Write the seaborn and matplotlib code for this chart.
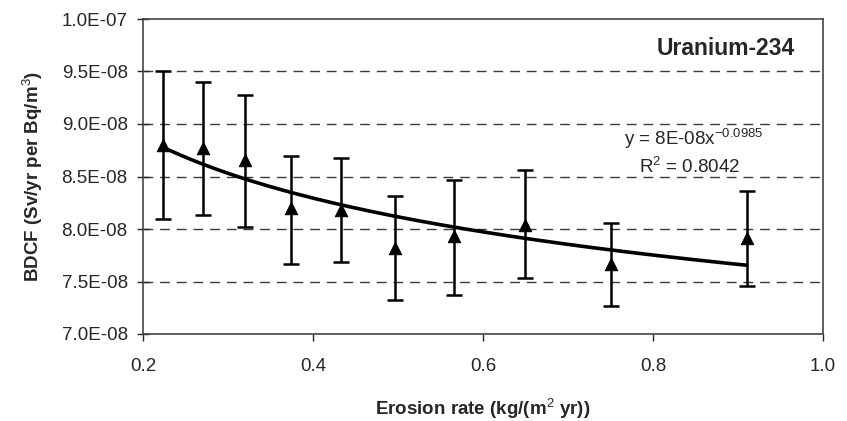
import numpy as np
import pandas as pd
import matplotlib
matplotlib.use("Agg")
import matplotlib.pyplot as plt
import seaborn as sns
from matplotlib.ticker import FuncFormatter

# Data
erosion_rate = [0.223, 0.270, 0.320, 0.374, 0.433, 0.496, 0.566, 0.649, 0.751, 0.910]
bdcf_mean = [8.80e-8, 8.77e-8, 8.66e-8, 8.20e-8, 8.18e-8, 7.82e-8, 7.93e-8, 8.04e-8, 7.67e-8, 7.91e-8]
bdcf_upper = [9.50e-8, 9.40e-8, 9.28e-8, 8.70e-8, 8.68e-8, 8.31e-8, 8.47e-8, 8.56e-8, 8.06e-8, 8.36e-8]
bdcf_lower = [8.10e-8, 8.13e-8, 8.02e-8, 7.67e-8, 7.69e-8, 7.32e-8, 7.37e-8, 7.53e-8, 7.27e-8, 7.46e-8]
x_ticks = [0.2, 0.4, 0.6, 0.8, 1.0]
y_ticks = [7.0e-8, 7.5e-8, 8.0e-8, 8.5e-8, 9.0e-8, 9.5e-8, 1.0e-7]
title_text = "Uranium-234"
equation_text = "y = 8E-08x$^{-0.0985}$"
r2_text = "R$^{2}$ = 0.8042"

sns.set_style("white")
plt.rcParams["font.family"] = ["Liberation Sans", "DejaVu Sans"]
plt.rcParams["mathtext.fontset"] = "custom"
plt.rcParams["mathtext.rm"] = "Liberation Sans"
plt.rcParams["mathtext.it"] = "Liberation Sans"
plt.rcParams["mathtext.bf"] = "Liberation Sans:bold"

df = pd.DataFrame({"x": erosion_rate, "y": bdcf_mean,
                   "hi": bdcf_upper, "lo": bdcf_lower})

# Power-law trendline fitted in log-log space
b, loga = np.polyfit(np.log(df["x"]), np.log(df["y"]), 1)
xs = np.linspace(min(erosion_rate), max(erosion_rate), 200)
trend = pd.DataFrame({"x": xs, "y": np.exp(loga) * xs ** b})

fig = plt.figure(figsize=(8.47, 4.21), dpi=100)
ax = fig.add_axes([143 / 847, 1 - 334 / 421, (823 - 143) / 847, (334 - 19) / 421])

# gridlines
for yt in y_ticks[1:-1]:
    ax.axhline(yt, color="#3a3a3a", lw=1.0, ls=(0, (7, 5)), zorder=0)

ax.errorbar(df["x"], df["y"],
            yerr=[df["y"] - df["lo"], df["hi"] - df["y"]],
            fmt="none", ecolor="black", elinewidth=1.8, capsize=6, capthick=1.8, zorder=2)
sns.lineplot(data=trend, x="x", y="y", ax=ax, color="black", lw=2.6, zorder=3)
sns.scatterplot(data=df, x="x", y="y", ax=ax, marker="^", s=80, color="black",
                edgecolor="black", zorder=4)

ax.set_xlim(0.2, 1.0)
ax.set_ylim(7.0e-8, 1.0e-7)
ax.set_xticks(x_ticks)
ax.set_yticks(y_ticks)
ax.xaxis.set_major_formatter(FuncFormatter(lambda v, p: f"{v:.1f}"))
ax.yaxis.set_major_formatter(FuncFormatter(lambda v, p: f"{v:.1E}"))
ax.tick_params(axis="y", direction="inout", length=8, width=1, labelsize=13.5, pad=7, left=True)
ax.tick_params(axis="x", direction="out", length=5, width=1, labelsize=13.5, pad=12, bottom=True)

for s in ax.spines.values():
    s.set_color("#444444")
    s.set_linewidth(1.2)
    s.set_visible(True)

ax.set_xlabel("Erosion rate (kg/(m$^{2}$ yr))", fontsize=13.5, fontweight="bold", labelpad=16)
ax.set_ylabel("BDCF (Sv/yr per Bq/m$^{3}$)", fontsize=13.5, fontweight="bold", labelpad=12)

ax.text(0.958, 0.905, title_text, transform=ax.transAxes, ha="right", va="center",
        fontsize=16.5, fontweight="bold")
ax.text(0.810, 0.600, equation_text, transform=ax.transAxes, ha="center", va="baseline",
        fontsize=13.5)
ax.text(0.804, 0.511, r2_text, transform=ax.transAxes, ha="center", va="baseline",
        fontsize=13.5)

fig.savefig("out.png", dpi=100)
